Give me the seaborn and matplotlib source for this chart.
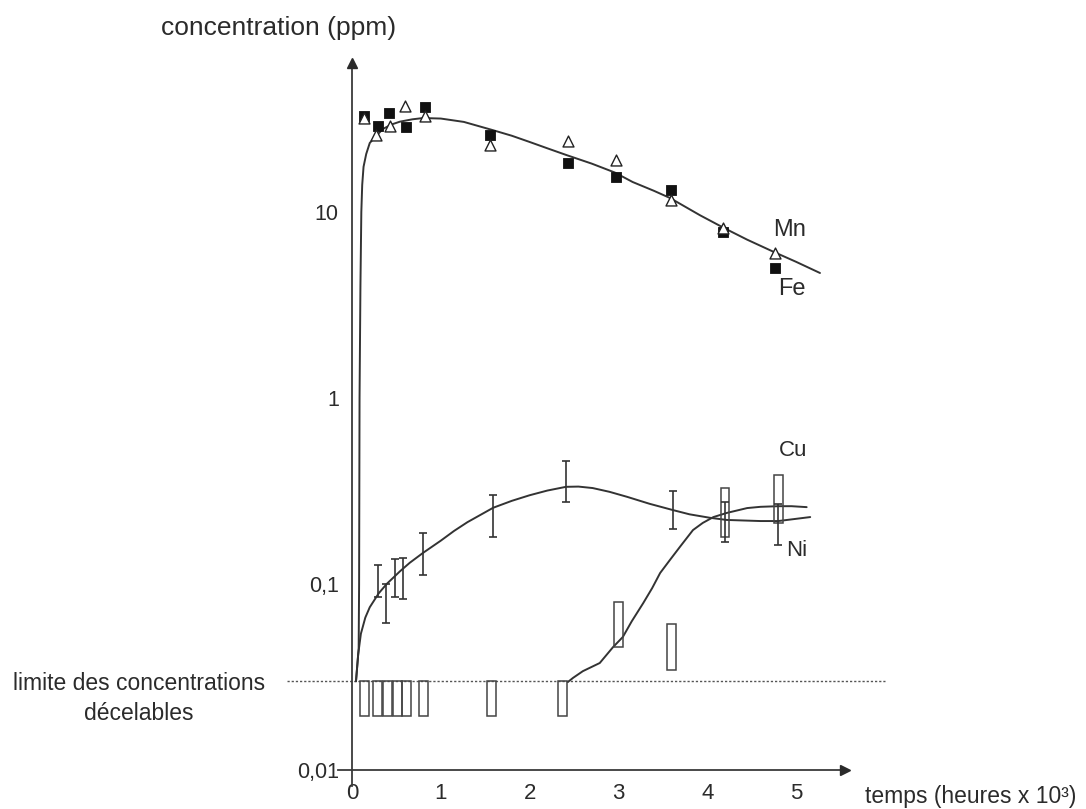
import numpy as np
import pandas as pd
import matplotlib
matplotlib.use("Agg")
import matplotlib.pyplot as plt
from matplotlib.ticker import NullLocator
import seaborn as sns

# ---------------- data ----------------
# Fe (filled squares)
fe_t = [0.135, 0.29, 0.42, 0.61, 0.82, 1.55, 2.43, 2.97, 3.59, 4.18, 4.76]
fe_c = [33, 29, 34, 28.7, 36.7, 26, 18.3, 15.4, 13.1, 7.8, 5.0]
# Mn (open triangles)
mn_t = [0.135, 0.27, 0.43, 0.60, 0.82, 1.55, 2.43, 2.97, 3.59, 4.18, 4.76]
mn_c = [32, 26, 29, 37, 33, 23, 24, 19, 11.6, 8.2, 6.0]
# Fe/Mn fitted curve
femn_t = [0.045, 0.075, 0.08, 0.085, 0.095, 0.105, 0.115, 0.13, 0.16, 0.2, 0.26,
          0.35, 0.45, 0.54, 0.68, 0.8, 1.0, 1.26, 1.58, 1.8, 2.0, 2.2, 2.42,
          2.7, 2.96, 3.16, 3.4, 3.58, 3.92, 4.19, 4.45, 4.75, 5.0, 5.27]
femn_c = [0.03, 0.045, 0.1, 1.0, 4.0, 10.0, 14.0, 17.5, 20.5, 23.5, 25.3,
          28.0, 29.6, 30.6, 31.5, 32.0, 31.8, 30.5, 27.6, 25.7, 23.8, 22.0,
          20.2, 18.2, 16.3, 14.5, 13.0, 11.9, 9.6, 8.2, 7.1, 6.1, 5.4, 4.7]
# Cu (error bars: low / high)
cu_t = [0.29, 0.38, 0.48, 0.57, 0.80, 1.59, 2.41, 3.61, 4.20, 4.80]
cu_low = [0.085, 0.062, 0.085, 0.083, 0.112, 0.179, 0.276, 0.198, 0.168, 0.162]
cu_high = [0.126, 0.100, 0.136, 0.138, 0.188, 0.300, 0.458, 0.316, 0.276, 0.270]
# Cu fitted curve
cucurve_t = [0.045, 0.07, 0.1, 0.15, 0.2, 0.3, 0.39, 0.54, 0.65, 0.8, 1.0,
             1.15, 1.3, 1.59, 1.8, 2.0, 2.2, 2.41, 2.55, 2.71, 2.9, 3.1, 3.35,
             3.61, 3.8, 4.03, 4.22, 4.6, 4.8, 5.16]
cucurve_c = [0.03, 0.042, 0.054, 0.066, 0.075, 0.089, 0.1, 0.117, 0.13, 0.147,
             0.171, 0.193, 0.215, 0.257, 0.28, 0.30, 0.318, 0.333, 0.334,
             0.328, 0.313, 0.294, 0.27, 0.25, 0.237, 0.227, 0.221, 0.218,
             0.218, 0.229]
# Ni (open rectangles: low / high)
ni_t = [0.14, 0.29, 0.40, 0.51, 0.61, 0.81, 1.57, 2.37, 3.0, 3.6, 4.2, 4.8]
ni_low = [0.0195] * 8 + [0.0458, 0.0345, 0.179, 0.213]
ni_high = [0.03] * 8 + [0.080, 0.061, 0.328, 0.385]
# Ni fitted curve
nicurve_t = [2.43, 2.49, 2.6, 2.79, 2.94, 3.05, 3.15, 3.28, 3.38, 3.47, 3.58,
             3.7, 3.84, 3.95, 4.07, 4.22, 4.45, 4.6, 4.8, 4.95, 5.12]
nicurve_c = [0.0297, 0.0313, 0.034, 0.0376, 0.0458, 0.0519, 0.063, 0.079,
             0.095, 0.1146, 0.1346, 0.16, 0.195, 0.213, 0.229, 0.241, 0.256,
             0.26, 0.262, 0.262, 0.259]

detection_limit = 0.03
x_ticks = [0, 1, 2, 3, 4, 5]
x_ticklabels = ["0", "1", "2", "3", "4", "5"]
y_ticks = [0.01, 0.1, 1, 10]
y_ticklabels = ["0,01", "0,1", "1", "10"]

# ---------------- style ----------------
sns.set_style("white")
plt.rcParams["font.family"] = ["Liberation Sans", "DejaVu Sans"]
INK = "#2b2b2b"
LINE = "#333333"

W, H = 1086, 809
fig = plt.figure(figsize=(W / 100, H / 100), dpi=100)
# axes placed so that 1 unit in x = 88.8 px, 1 decade = 186 px
px_left, px_right, px_top, px_bot = 250, 950, 20, 805
ax = fig.add_axes([px_left / W, (H - px_bot) / H,
                   (px_right - px_left) / W, (px_bot - px_top) / H])
ax.set_facecolor("none")
ax.set_yscale("log")

def xval(px):
    return (px - 352) / 88.8

def yval(py):
    return 10 ** (1 + (212 - py) / 186)

# ---------------- marks ----------------
# detection limit
ax.hlines(detection_limit, xval(287), xval(885), colors="#555555",
          linestyles=(0, (1.6, 1.4)), lw=1.0, clip_on=False)

# curves
for tx, cy in [(femn_t, femn_c), (cucurve_t, cucurve_c), (nicurve_t, nicurve_c)]:
    sns.lineplot(x=tx, y=cy, ax=ax, color=LINE, lw=1.4, sort=False,
                 estimator=None, solid_joinstyle="round")

# Ni rectangles
ni_h = [h - l for h, l in zip(ni_high, ni_low)]
ax.bar(ni_t, ni_h, bottom=ni_low, width=0.1, fill=False,
       edgecolor="#444444", lw=1.1, zorder=3)

# Cu error bars
cu_mid = [np.sqrt(l * h) for l, h in zip(cu_low, cu_high)]
err = [[m - l for m, l in zip(cu_mid, cu_low)],
       [h - m for h, m in zip(cu_high, cu_mid)]]
ax.errorbar(cu_t, cu_mid, yerr=err, fmt="none", ecolor=LINE, elinewidth=1.2,
            capsize=3.0, capthick=1.2, zorder=4)

# Fe squares then Mn triangles
sns.scatterplot(x=fe_t, y=fe_c, ax=ax, marker="s", s=58, color="#111111",
                edgecolor="#111111", linewidth=0.6, zorder=5)
sns.scatterplot(x=mn_t, y=mn_c, ax=ax, marker="^", s=62, facecolor="white",
                edgecolor="#222222", linewidth=1.0, zorder=6)

# ---------------- axes ----------------
ax.set_xlim(xval(px_left), xval(px_right))
ax.set_ylim(yval(px_bot), yval(px_top))

for s in ["top", "right"]:
    ax.spines[s].set_visible(False)
ax.spines["left"].set_position(("data", 0))
ax.spines["bottom"].set_position(("data", 0.01))
ax.spines["left"].set_bounds(yval(786), yval(64))
ax.spines["bottom"].set_bounds(xval(338), xval(842))
for s in ["left", "bottom"]:
    ax.spines[s].set_color("#3a3a3a")
    ax.spines[s].set_linewidth(1.3)
# arrow heads
ax.plot([0], [yval(63)], marker="^", ms=7, color="#2a2a2a", clip_on=False,
        zorder=7)
ax.plot([xval(845)], [0.01], marker=">", ms=7, color="#2a2a2a", clip_on=False,
        zorder=7)

ax.set_yticks(y_ticks)
ax.set_yticklabels(y_ticklabels)
ax.yaxis.set_minor_locator(NullLocator())
ax.set_xticks(x_ticks)
ax.set_xticklabels(x_ticklabels)
ax.tick_params(axis="y", direction="inout", length=17, width=1.1,
               colors="#3a3a3a", labelcolor=INK, labelsize=15.5, pad=1)
ax.tick_params(axis="x", direction="inout", length=16.5, width=1.1,
               colors="#3a3a3a", labelcolor=INK, labelsize=16, pad=1)
ax.grid(False)
ax.set_xlabel("")
ax.set_ylabel("")

# ---------------- text ----------------
def ftext(px, py, s, size, ha="center", va="center"):
    fig.text(px / W, 1 - py / H, s, fontsize=size, color=INK, ha=ha, va=va)

ftext(161, 28, "concentration (ppm)", 19, ha="left")
ftext(865, 797, "temps (heures x 10³)", 16.5, ha="left")
ftext(139, 684, "limite des concentrations", 16.5)
ftext(139, 714, "décelables", 16.5)
ftext(790, 230, "Mn", 17)
ftext(792, 289, "Fe", 17)
ftext(793, 451, "Cu", 16)
ftext(797, 551, "Ni", 16)

fig.savefig("out.png", dpi=100)
